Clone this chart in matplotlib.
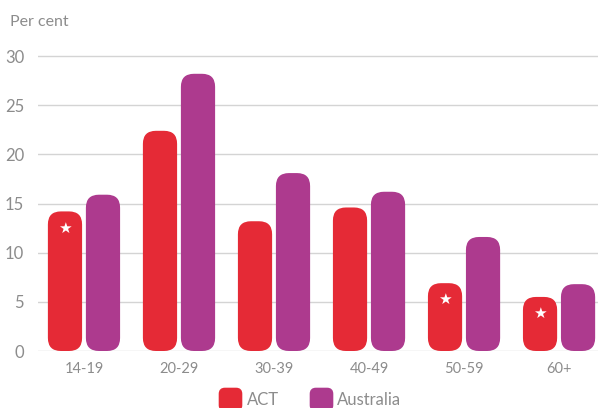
import matplotlib
matplotlib.use("Agg")
import matplotlib.pyplot as plt
from matplotlib.patches import FancyBboxPatch, BoxStyle
from matplotlib.lines import Line2D
import numpy as np

# data
age_groups = ["14-19", "20-29", "30-39", "40-49", "50-59", "60+"]
act = [14.2, 22.4, 13.2, 14.6, 6.9, 5.5]
australia = [15.9, 28.2, 18.1, 16.2, 11.6, 6.8]
starred = [True, False, False, False, True, True]

red = "#e52a36"
purple = "#ad3a8e"
grey_txt = "#8c8c8c"

plt.rcParams["font.family"] = ["Lato", "DejaVu Sans"]

fig = plt.figure(figsize=(5.98, 4.08), dpi=100)
ax = fig.add_axes([38 / 598, 1 - 351 / 408, 1 - 38 / 598, (30.5 * 9.83) / 408])

x = np.arange(len(age_groups))
w = 0.36
bars_act = ax.bar(x - 0.2, act, w, color=red)
bars_aus = ax.bar(x + 0.2, australia, w, color=purple)

ax.set_xlim(-0.484, 5.41)
ax.set_ylim(0, 30.5)

# swap the plain rectangles for rounded ones
fig.canvas.draw()
bb = ax.get_window_extent()
px_x = bb.width / (ax.get_xlim()[1] - ax.get_xlim()[0])
px_y = bb.height / (ax.get_ylim()[1] - ax.get_ylim()[0])
aspect = px_x / px_y
r = 13 / px_x
for rect in list(bars_act) + list(bars_aus):
    rx, ry = rect.get_x(), rect.get_y()
    rw, rh = rect.get_width(), rect.get_height()
    fb = FancyBboxPatch((rx, ry), rw, rh,
                        boxstyle=f"round,pad=0,rounding_size={r}",
                        mutation_aspect=aspect,
                        facecolor=rect.get_facecolor(), edgecolor="none", zorder=3)
    ax.add_patch(fb)
    rect.remove()

for xi, v, s in zip(x, act, starred):
    if s:
        ax.annotate("\u2605", xy=(xi - 0.2, v), xytext=(0, -12), textcoords="offset points",
                    ha="center", va="center", color="white", fontsize=11,
                    family="DejaVu Sans", zorder=4)

ax.set_yticks([0, 5, 10, 15, 20, 25, 30])
ax.set_xticks(x)
ax.set_xticklabels(age_groups)
ax.grid(axis="y", color="#d4d4d4", linewidth=1)
ax.set_axisbelow(True)
for sp in ax.spines.values():
    sp.set_visible(False)
ax.tick_params(axis="y", length=0, pad=10, labelsize=12, labelcolor=grey_txt)
ax.tick_params(axis="x", length=0, pad=8, labelsize=10.5, labelcolor=grey_txt)

fig.text(10 / 598, 1 - 22 / 408, "Per cent", ha="left", va="center",
         fontsize=11.5, color=grey_txt)

# rounded square legend marker
rsq = BoxStyle("round", pad=0, rounding_size=0.25)(-0.5, -0.5, 1, 1, 1)
handles = [Line2D([], [], marker=rsq, linestyle="none", markersize=16, color=red),
           Line2D([], [], marker=rsq, linestyle="none", markersize=16, color=purple)]
fig.legend(handles, ["ACT", "Australia"], loc="center", ncol=2,
           bbox_to_anchor=(0.514, 1 - 400 / 408), frameon=False,
           fontsize=12, labelcolor=grey_txt, handletextpad=0.0, columnspacing=1.5)

fig.savefig("out.png", dpi=100)
